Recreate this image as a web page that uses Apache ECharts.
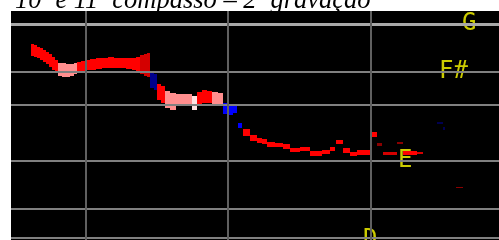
<!DOCTYPE html>
<html>
<head>
    <meta charset="utf-8">
    <title>10ª e 11ª compasso – 2ª gravação</title>
    <script src="https://cdn.jsdelivr.net/npm/echarts@6/dist/echarts.min.js"></script>
    <style>
        html, body { margin: 0; padding: 0; background: #fff; }
        #main { width: 499px; height: 240px; }
    </style>
</head>
<body>
<div id="main"></div>
<script>
    // trace segments: time start/end (frames), pitch top/bottom (pitch units), tone index
    var tStart  = [20, 23, 26, 29, 32, 35, 38, 41, 44, 47, 51, 55, 59, 63, 66, 70, 75, 79, 85, 91, 97, 103, 109, 115, 121, 125, 129, 133, 136,
                   139, 143, 146, 150, 154, 159, 165, 171, 176, 181, 186, 191, 196, 201, 207, 212, 217, 222, 227,
                   232, 239, 246, 251, 256, 264, 272, 279, 289, 299, 311, 319, 325, 332, 339, 346, 360, 366, 372, 386, 392, 406, 426, 432, 445];
    var tEnd    = [23, 26, 29, 32, 35, 38, 41, 44, 47, 51, 55, 59, 63, 66, 70, 75, 79, 85, 91, 97, 103, 109, 115, 121, 125, 129, 133, 136, 139,
                   143, 146, 150, 154, 159, 165, 171, 176, 181, 186, 191, 196, 201, 207, 212, 217, 222, 226, 231,
                   239, 246, 251, 256, 264, 272, 279, 289, 299, 311, 319, 324, 332, 339, 346, 360, 366, 371, 386, 392, 406, 412, 432, 434, 452];
    var pitchHi = [196, 195, 193, 192, 190, 188, 186, 183, 180, 177, 177, 176, 176, 177, 178, 179, 180, 181, 182, 182, 183, 182, 182, 182, 182, 183, 185, 186, 187,
                   168, 166, 156, 154, 149, 147, 146, 146, 146, 144, 148, 150, 149, 148, 147, 137, 136, 134, 117,
                   111, 105, 102, 101, 98, 97, 96, 92, 93, 89, 90, 93, 100, 92, 88, 90, 108, 97, 88, 98, 89, 88, 118, 113, 53];
    var pitchLo = [184, 183, 182, 180, 178, 176, 173, 170, 168, 164, 163, 163, 164, 166, 168, 169, 170, 170, 171, 172, 172, 172, 172, 171, 170, 168, 166, 164, 163,
                   152, 150, 140, 137, 132, 130, 134, 135, 136, 130, 136, 137, 137, 135, 134, 126, 125, 127, 112,
                   104, 99, 97, 96, 93, 93, 91, 88, 89, 84, 86, 89, 96, 87, 84, 85, 103, 94, 85, 96, 85, 86, 116, 110, 52];
    var tone    = [0, 0, 0, 0, 0, 0, 0, 0, 0, 1, 1, 1, 1, 1, 0, 0, 0, 0, 0, 0, 0, 0, 0, 0, 0, 0, 3, 3, 3,
                   5, 5, 0, 0, 1, 1, 1, 1, 1, 2, 0, 0, 0, 1, 1, 6, 6, 6, 6,
                   0, 0, 0, 0, 0, 0, 0, 0, 0, 0, 0, 0, 0, 0, 0, 0, 0, 4, 3, 4, 0, 3, 7, 7, 4];

    var toneColor = ['#ff0000', '#ff8e8e', '#ffe0e0', '#d40000', '#8a0000', '#00008c', '#0000ff', '#000050'];

    // reference lines
    var gridPitch = [216, 168, 135, 79, 31, 2];
    var gridTime = [75, 217, 360];

    // note names
    var noteNames = ['G', 'F#', 'E', 'D'];
    var notePitch = [216, 168, 79, 0];
    var noteTime = [451, 428, 387, 352];

    var segments = tStart.map(function (t, i) {
        return [t, tEnd[i], pitchHi[i], pitchLo[i], tone[i]];
    });
    var notes = noteNames.map(function (n, i) {
        return { value: [noteTime[i], notePitch[i]], name: n };
    });

    var myChart = echarts.init(document.getElementById('main'));

    var option = {
        animation: false,
        title: {
            text: '10ª e 11ª compasso – 2ª gravação',
            left: 10,
            top: -17,
            textStyle: {
                fontFamily: 'Liberation Serif',
                fontStyle: 'italic',
                fontWeight: 'normal',
                fontSize: 26.5,
                color: '#000'
            }
        },
        grid: {
            left: 11, right: 0, top: 11, bottom: 0,
            show: true, backgroundColor: '#000', borderWidth: 0
        },
        xAxis: {
            type: 'value', min: 0, max: 488,
            show: false, splitLine: { show: false }
        },
        yAxis: {
            type: 'value', min: 0, max: 229,
            show: false, splitLine: { show: false }
        },
        series: [
            {
                type: 'line',
                data: [],
                silent: true,
                z: 1,
                markLine: {
                    silent: true,
                    symbol: 'none',
                    label: { show: false },
                    animation: false,
                    data: gridPitch.map(function (v, i) {
                        return {
                            yAxis: v,
                            lineStyle: { color: i === 0 ? '#a8a8a8' : '#808080', width: i === 0 ? 3 : 2, type: 'solid' }
                        };
                    }).concat(gridTime.map(function (v) {
                        return { xAxis: v, lineStyle: { color: '#606060', width: 2, type: 'solid' } };
                    }))
                }
            },
            {
                type: 'custom',
                z: 3,
                silent: true,
                data: segments,
                encode: { x: [0, 1], y: [2, 3] },
                renderItem: function (params, api) {
                    var p0 = api.coord([api.value(0), api.value(2)]);
                    var p1 = api.coord([api.value(1), api.value(3)]);
                    return {
                        type: 'rect',
                        shape: { x: p0[0], y: p0[1], width: p1[0] - p0[0], height: p1[1] - p0[1] },
                        style: { fill: toneColor[api.value(4)] }
                    };
                }
            },
            {
                type: 'scatter',
                z: 4,
                silent: true,
                clip: false,
                symbolSize: 0,
                data: notes,
                label: {
                    show: true,
                    position: 'inside',
                    align: 'left',
                    verticalAlign: 'middle',
                    formatter: '{b}',
                    fontFamily: 'DejaVu Sans Mono',
                    fontSize: 24,
                    color: '#ffff00'
                }
            }
        ]
    };

    myChart.setOption(option);
</script>
</body>
</html>
